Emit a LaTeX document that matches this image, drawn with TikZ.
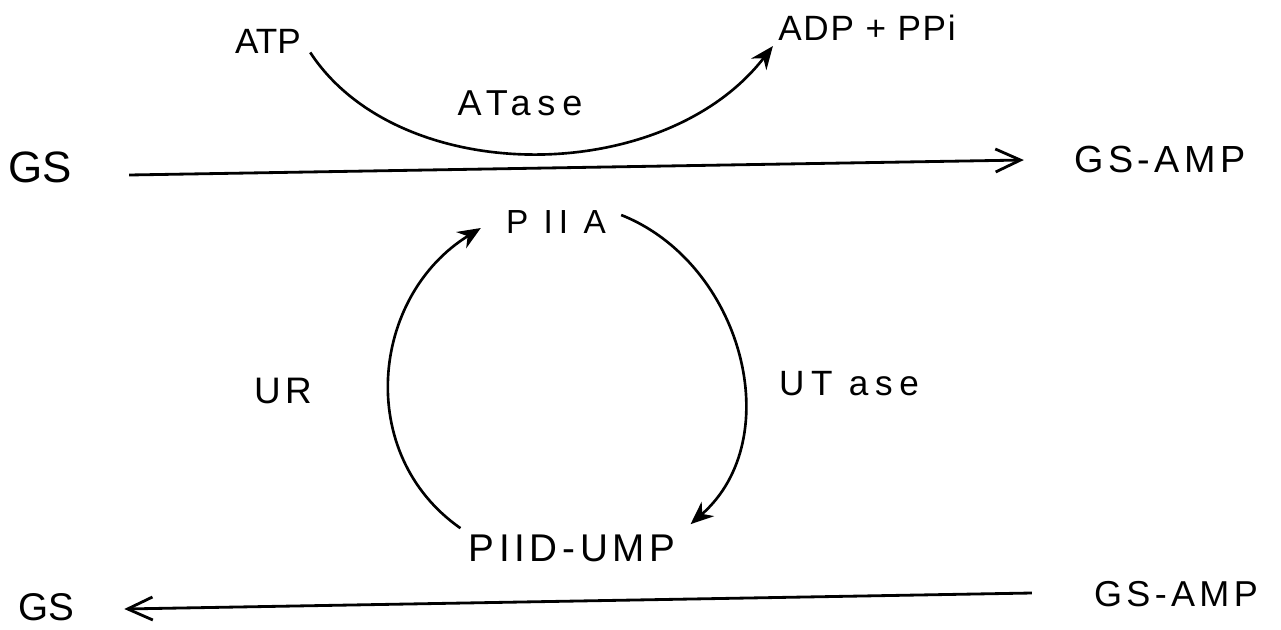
\documentclass[tikz,border=0pt]{standalone}
\usepackage{fontspec}
\setmainfont{Liberation Sans}
\newfontfamily\trackS[LetterSpace=5]{Liberation Sans}
\newfontfamily\trackM[LetterSpace=12]{Liberation Sans}
\newfontfamily\trackL[LetterSpace=19]{Liberation Sans}
\newfontfamily\trackXL[LetterSpace=18]{Liberation Sans}
\usetikzlibrary{arrows.meta}

\begin{document}
\begin{tikzpicture}[
        x=0.02cm, y=-0.02cm,
        lbl/.style={inner sep=0pt, anchor=center},
        flow/.style={line width=1.6pt,
                     -{Straight Barb[length=5mm,width=4.6mm,line width=1.6pt]}},
        turn/.style={line width=1.5pt, -{Stealth[length=4.6mm,width=3.8mm]}}
      ]
        \useasboundingbox (0,0) rectangle (1281,629);
        % upper line: adenylylation
        \node[lbl, font=\fontsize{25}{30}\selectfont] (gsTop) at (40,167) {GS};
        \node[lbl, font=\trackM\fontsize{21.5}{26}\selectfont] (gsampTop) at (1160,159) {GS-AMP};
        \node[lbl, font=\fontsize{20}{24}\selectfont] (atp) at (268,41) {ATP};
        \node[lbl, font=\trackS\fontsize{20}{24}\selectfont] (adp) at (867,28) {ADP + PPi};
        \node[lbl, font=\trackL\fontsize{20.5}{24}\selectfont] (atase) at (520,103) {ATase};
        % PII cycle
        \node[lbl, font=\trackXL\fontsize{19}{23}\selectfont] (piia) at (556,222) {P II A};
        \node[lbl, font=\trackM\fontsize{21}{25}\selectfont] (ur) at (283,391) {UR};
        \node[lbl, font=\trackL\fontsize{20}{24}\selectfont] (utase) at (849,384) {UT ase};
        \node[lbl, font=\trackM\fontsize{22}{26}\selectfont] (piid) at (572,548) {PIID-UMP};
        % lower line: deadenylylation
        \node[lbl, font=\fontsize{22}{26}\selectfont] (gsBot) at (46,607) {GS};
        \node[lbl, font=\trackM\fontsize{20.5}{24}\selectfont] (gsampBot) at (1176,594) {GS-AMP};

        \draw[flow] ([shift={(57,8)}]gsTop.east) -- ([shift={(-50,1)}]gsampTop.west);
        \draw[flow] ([shift={(-62,-1)}]gsampBot.west) -- ([shift={(50,2)}]gsBot.east);
        \draw[turn] ([shift={(9,-1)}]atp.south east)
              .. controls +(89,136) and +(-109,141) .. ([shift={(-5,5)}]adp.south west);
        \draw[turn] ([shift={(15,-7)}]piia.east)
              .. controls +(121,48) and +(98,-86) .. ([shift={(15,-10)}]piid.north east);
        \draw[turn] ([shift={(-8,-6)}]piid.north west)
              .. controls +(-106,-74) and +(-110,68) .. ([shift={(-25,6)}]piia.west);
      \end{tikzpicture}
\end{document}
